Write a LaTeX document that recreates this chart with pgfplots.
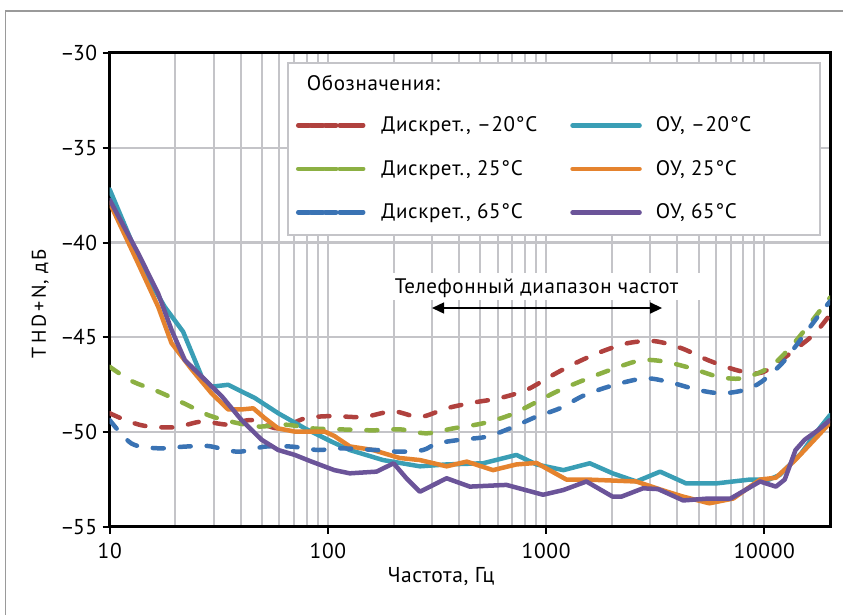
\documentclass[border=0pt]{standalone}
\usepackage{fontspec}
\setmainfont{PT Sans}[LetterSpace=3]
\usepackage{pgfplots}
\pgfplotsset{compat=1.18}
\usetikzlibrary{arrows.meta}
\definecolor{cred}{HTML}{B0413E}
\definecolor{cgreen}{HTML}{8CB043}
\definecolor{cblue}{HTML}{3A73B4}
\definecolor{cteal}{HTML}{3A9EB5}
\definecolor{corange}{HTML}{E5832E}
\definecolor{cpurple}{HTML}{6B5499}
\definecolor{cgrid}{HTML}{C4C4C8}
\definecolor{cframe}{HTML}{9A9A9A}
\newcommand{\mn}{–\kern-1.5pt}
\begin{document}
\begin{tikzpicture}
\useasboundingbox (-109.7pt,-88pt) rectangle (733.3pt,527pt);
\draw[cframe, line width=1.5pt] (-104.3pt,-90pt) -- (-104.3pt,516pt) -- (740pt,516pt);
\begin{axis}[
  at={(0pt,0pt)}, anchor=south west,
  scale only axis, width=720.3pt, height=474pt,
  xmode=log, xmin=10, xmax=20000, ymin=-55, ymax=-30,
  xtick={10,100,1000,10000}, xticklabels={10,100,1000,10000},
  minor xtick={20,30,40,50,60,70,80,90,200,300,400,500,600,700,800,900,2000,3000,4000,5000,6000,7000,8000,9000},
  ytick={-55,-50,-45,-40,-35,-30}, yticklabels={\mn55,\mn50,\mn45,\mn40,\mn35,\mn30},
  xmajorgrids, xminorgrids, ymajorgrids,
  major grid style={cgrid, line width=2.2pt},
  minor grid style={cgrid, line width=2pt},
  axis line style={black, line width=3pt},
  tick style={black, line width=2pt},
  major tick length=7pt, minor tick length=0pt,
  tick align=outside, xtick pos=left, ytick pos=left,
  tick label style={font=\fontsize{21.5}{24}\selectfont},
  xticklabel style={yshift=-6pt},
  yticklabel style={xshift=-2pt},
  legend columns=2,
  legend cell align=left,
  legend style={at={(axis description cs:0.2586,0.8635)}, anchor=north west,
    draw=none, fill=none, inner sep=0pt, outer sep=0pt,
    font=\fontsize{21}{24}\selectfont, row sep=28pt,
    nodes={inner sep=0pt, text height=14pt, text depth=1.5pt},
    /tikz/every odd column/.append style={column sep=14pt},
    /tikz/every even column/.append style={column sep=33pt}},
  dashline/.style={line width=4.5pt, line cap=round, dash pattern=on 11pt off 16pt, smooth,
    legend image code/.code={\path (0pt,0pt) -- (67pt,0pt); \draw[##1, dash pattern=on 12.5pt off 16.5pt] (12.5pt,0pt) -- (54pt,0pt);}},
  solidline/.style={line width=4.5pt, line join=round, line cap=round,
    legend image code/.code={\draw[##1] (0pt,0pt) -- (67pt,0pt);}},
]
% grid cover box
\fill[white] (axis description cs:0.3800,0.4789) rectangle (axis description cs:0.8280,0.5359);
\node[anchor=base, font=\fontsize{21}{24}\selectfont, inner sep=0pt] at (axis cs:903.6,-42.67) {Телефонный диапазон частот};
\draw[black, line width=1.5pt, {Triangle[length=12pt,width=11pt]}-{Triangle[length=12pt,width=11pt]}] (axis cs:300,-43.45) -- (axis cs:3400,-43.45);

\addplot[cred, dashline] coordinates {
(10,-49.0) (11.8,-49.36) (14.5,-49.67) (19.9,-49.74) (26.4,-49.44) (34.9,-49.6) (44.7,-49.36) (59.2,-49.8) (78.5,-49.27) (104,-49.15) (145,-49.2) (199,-48.9) (264,-49.2) (350,-48.74) (463,-48.44) (614,-48.2) (813,-47.77) (1040,-47.07) (1355,-46.37) (1795,-45.75) (2377,-45.3) (3148,-45.2) (4170,-45.57) (5521,-46.2) (7317,-46.7) (9036,-46.9) (10400,-46.7) (13770,-45.66) (17000,-44.8) (20000,-43.8)};
\addlegendentry{Дискрет., –20°C}
\addplot[cteal, solidline] coordinates {
(10,-37.2) (14.5,-41.6) (17.9,-43.4) (21.7,-44.7) (26.4,-47.07) (29.3,-47.6) (34.9,-47.5) (46.3,-48.2) (59.2,-49.0) (78.5,-49.8) (104,-50.5) (126,-50.94) (179,-51.47) (264,-51.8) (350,-51.7) (514,-51.64) (731,-51.2) (903,-51.7) (1200,-52.0) (1585,-51.64) (2018,-52.17) (2590,-52.6) (3330,-52.08) (4380,-52.7) (6026,-52.7) (8570,-52.5) (10500,-52.5) (11750,-52.26) (14790,-51.1) (17600,-49.9) (20000,-49.1)};
\addlegendentry{ОУ, –20°C}
\addplot[cgreen, dashline] coordinates {
(10,-46.55) (12.6,-47.3) (16.7,-47.86) (22.1,-48.5) (28.3,-49.1) (36.2,-49.45) (48,-49.7) (63.5,-49.6) (85,-49.8) (113,-49.85) (161,-49.9) (214,-49.85) (283,-50.06) (375,-49.8) (514,-49.53) (682,-49.1) (872,-48.5) (1117,-47.86) (1556,-47.16) (2066,-46.63) (2735,-46.2) (3499,-46.28) (4634,-46.63) (6135,-47.07) (7850,-47.16) (10400,-46.63) (12850,-45.66) (15850,-44.4) (20000,-42.9)};
\addlegendentry{Дискрет., 25°C}
\addplot[corange, solidline] coordinates {
(10,-37.9) (13.5,-41.1) (16.7,-43.4) (19.2,-45.3) (23.8,-46.7) (29.3,-47.95) (34.9,-48.8) (40.2,-48.8) (45.5,-48.74) (51.5,-49.27) (59.2,-49.8) (70.6,-49.97) (96.8,-49.97) (107,-50.2) (126,-50.75) (161,-50.94) (213,-51.36) (264,-51.47) (350,-51.8) (433,-51.55) (571,-52.0) (731,-51.7) (903,-51.62) (1240,-52.5) (1556,-52.5) (2590,-52.6) (3499,-53.1) (4250,-53.4) (5600,-53.75) (7200,-53.5) (9560,-52.5) (11300,-52.4) (13770,-51.5) (17600,-50.2) (20000,-49.5)};
\addlegendentry{ОУ, 25°C}
\addplot[cblue, dashline] coordinates {
(10,-49.36) (12.6,-50.6) (16.7,-50.85) (22.1,-50.76) (28.3,-50.73) (38.8,-51.03) (51.5,-50.76) (68.2,-50.76) (90.3,-50.94) (113,-50.85) (167,-50.94) (214,-51.03) (273,-50.94) (315,-50.6) (403,-50.4) (533,-50.24) (682,-49.8) (903,-49.18) (1156,-48.74) (1503,-48.04) (2066,-47.5) (2831,-47.16) (3620,-47.34) (4963,-47.77) (6368,-47.95) (8150,-47.77) (9710,-47.34) (12050,-46.37) (14260,-45.3) (17600,-43.9) (20000,-43.1)};
\addlegendentry{Дискрет., 65°C}
\addplot[cpurple, solidline] coordinates {
(10,-37.75) (13.5,-40.56) (16.7,-42.7) (19.2,-44.6) (22.1,-46.2) (27.4,-47.25) (32.6,-48.1) (40.2,-49.36) (49.7,-50.4) (59.2,-50.94) (70.6,-51.2) (84.1,-51.55) (107,-52.0) (126,-52.17) (167,-52.08) (200,-51.64) (229,-52.43) (264,-53.14) (350,-52.43) (447,-52.87) (658,-52.78) (968,-53.3) (1200,-53.05) (1530,-52.6) (2018,-53.4) (2213,-53.4) (2780,-52.96) (3259,-53.0) (4250,-53.6) (5521,-53.5) (7000,-53.5) (9560,-52.6) (11300,-52.87) (12400,-52.5) (13900,-50.94) (15300,-50.4) (17600,-49.9) (20000,-49.36)};
\addlegendentry{ОУ, 65°C}

% legend frame
\draw[cgrid, line width=2pt, fill=white] (axis description cs:0.2480,0.6154) rectangle (axis description cs:0.9861,0.9795);
\end{axis}
\node[anchor=base west, font=\fontsize{21}{24}\selectfont, inner sep=0pt] at (197pt,436.3pt) {Обозначения:};
\node[anchor=base, font=\fontsize{21.5}{24}\selectfont, inner sep=0pt] at (331.3pt,-56pt) {Частота, Гц};
\node[anchor=base, rotate=90, font=\fontsize{20}{24}\selectfont, inner sep=0pt] at (-63.7pt,223pt) {T\kern3pt H\kern3pt D\kern3pt +\kern3pt N, д\kern2pt Б};
\end{tikzpicture}
\end{document}
